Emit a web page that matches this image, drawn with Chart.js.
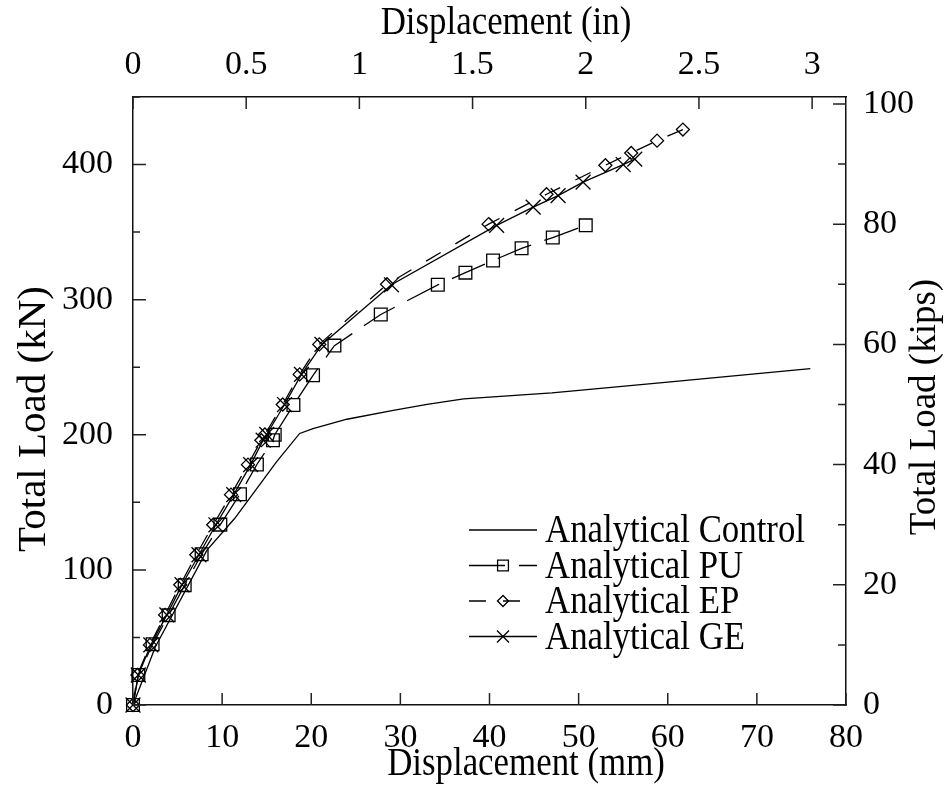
<!DOCTYPE html>
<html><head><meta charset="utf-8">
<script src="https://cdn.jsdelivr.net/npm/chart.js@4.4.1/dist/chart.umd.min.js"></script>
<style>html,body{margin:0;padding:0;background:#fff}#wrap{width:945px;height:788px}</style>
</head><body><div id="wrap"><canvas id="c" width="945" height="788"></canvas></div>
<script>
// ---- data (displacement in mm, load in kN) ----
const seriesNames = ['Analytical Control', 'Analytical PU', 'Analytical EP', 'Analytical GE'];

const controlDisp = [0, 2.5, 8.3, 11.4, 16.1, 18.7, 20.2, 24.0, 29.2, 33.0, 37.1, 47.0, 60.0, 76.0];
const controlLoad = [0, 43, 114.6, 138, 180, 201, 204.6, 211.5, 218, 222.5, 226.5, 231, 239, 249];

const puDisp = [0, 0.6, 2.2, 4.0, 5.8, 7.7, 9.8, 12.0, 13.9, 15.7, 15.9, 18.0, 20.2, 22.6, 27.8, 34.2, 37.3, 40.4, 43.6, 47.1, 50.8];
const puLoad = [0, 22.2, 44.9, 66.5, 88.7, 111.6, 133.5, 156, 178, 196, 200, 222, 244, 266, 289, 311, 320, 329, 338, 346, 355];

const epDisp = [0, 0.5, 1.9, 3.6, 5.3, 7.1, 9.0, 11.0, 12.9, 14.4, 14.8, 16.8, 18.7, 20.9, 28.5, 39.9, 46.4, 53.0, 55.9, 58.8, 61.7];
const epLoad = [0, 22.2, 44.5, 66.7, 89, 111.2, 133.4, 155.7, 177.9, 196, 200.2, 222.4, 244.7, 266.9, 311.4, 355.9, 378, 399.5, 408.6, 417.7, 425.9];

const geDisp = [0, 0.6, 2.0, 3.8, 5.5, 7.4, 9.3, 11.3, 13.2, 14.6, 15.0, 17.0, 18.9, 21.2, 29.0, 40.8, 44.9, 47.7, 50.5, 55.0, 56.3];
const geLoad = [0, 22.2, 44.5, 66.7, 89, 111.2, 133.4, 155.7, 177.9, 196, 200.2, 222.4, 244.7, 266.9, 311, 355, 368.5, 377, 387, 400, 404];

// ---- axes ----
const dispMmLabels = [0, 10, 20, 30, 40, 50, 60, 70, 80];
const dispInLabels = [0, 0.5, 1, 1.5, 2, 2.5, 3];
const loadKnLabels = [0, 100, 200, 300, 400];
const loadKipLabels = [0, 20, 40, 60, 80, 100];
const axisTitles = { bottom: 'Displacement (mm)', top: 'Displacement (in)', left: 'Total Load (kN)', right: 'Total Load (kips)' };
const MM_PER_IN = 25.4;
const KN_PER_KIP = 4.448222;
const X_MAX_MM = 80;
const Y_MAX_KN = 450;

const FONT = "'Liberation Serif','Times New Roman',serif";
const toPts = (xs, ys) => xs.map((x, i) => ({ x: x, y: ys[i] }));
const near = (v, arr) => arr.some(a => Math.abs(a - v) < 1e-6);

const hollow = 'rgba(0,0,0,0)';
const datasets = [
  { label: seriesNames[0], data: toPts(controlDisp, controlLoad), borderColor: '#000', borderWidth: 1.3, pointRadius: 0, clip: false },
  { label: seriesNames[1], data: toPts(puDisp, puLoad), borderColor: '#000', borderWidth: 1.3, borderDash: [36, 14],
    pointStyle: 'rect', pointRadius: 9, pointBorderWidth: 1.3, pointBorderColor: '#000', pointBackgroundColor: hollow, clip: false },
  { label: seriesNames[2], data: toPts(epDisp, epLoad), borderColor: '#000', borderWidth: 1.3, borderDash: [17, 17],
    pointStyle: 'rectRot', pointRadius: 6.5, pointBorderWidth: 1.3, pointBorderColor: '#000', pointBackgroundColor: hollow, clip: false },
  { label: seriesNames[3], data: toPts(geDisp, geLoad), borderColor: '#000', borderWidth: 1.3,
    pointStyle: 'crossRot', pointRadius: 10.5, pointBorderWidth: 1.3, pointBorderColor: '#000', pointBackgroundColor: hollow, clip: false }
];

// inward tick marks
const inwardTicks = {
  id: 'inwardTicks',
  afterDraw(chart) {
    const ctx = chart.ctx, a = chart.chartArea, s = chart.scales;
    ctx.save();
    ctx.strokeStyle = '#222';
    ctx.lineWidth = 1.5;
    ctx.beginPath();
    s.x.ticks.forEach(t => { const p = s.x.getPixelForValue(t.value); ctx.moveTo(p, a.bottom); ctx.lineTo(p, a.bottom - 12); });
    s.x2.ticks.forEach(t => { const p = s.x2.getPixelForValue(t.value); ctx.moveTo(p, a.top); ctx.lineTo(p, a.top + 12); });
    s.y.ticks.forEach(t => { const p = s.y.getPixelForValue(t.value); const L = near(t.value, loadKnLabels) ? 13 : 7; ctx.moveTo(a.left, p); ctx.lineTo(a.left + L, p); });
    s.y2.ticks.forEach(t => { const p = s.y2.getPixelForValue(t.value); const L = near(t.value, loadKipLabels) ? 13 : 8; ctx.moveTo(a.right, p); ctx.lineTo(a.right - L, p); });
    ctx.stroke();
    ctx.restore();
  }
};

// axis titles and legend
function drawText(ctx, txt, x, y, size, sx, rot, align) {
  ctx.save();
  ctx.translate(x, y);
  if (rot) ctx.rotate(rot);
  ctx.scale(sx, 1);
  ctx.font = size + 'px ' + FONT;
  ctx.fillStyle = '#000';
  ctx.textAlign = align || 'center';
  ctx.textBaseline = 'alphabetic';
  ctx.fillText(txt, 0, 0);
  ctx.restore();
}
function marker(ctx, style, x, y, r) {
  ctx.beginPath();
  if (style === 'rect') { const h = r * Math.SQRT1_2; ctx.rect(x - h, y - h, 2 * h, 2 * h); }
  else if (style === 'rectRot') { ctx.moveTo(x - r, y); ctx.lineTo(x, y - r); ctx.lineTo(x + r, y); ctx.lineTo(x, y + r); ctx.closePath(); }
  else if (style === 'crossRot') { const h = r * Math.SQRT1_2; ctx.moveTo(x - h, y - h); ctx.lineTo(x + h, y + h); ctx.moveTo(x - h, y + h); ctx.lineTo(x + h, y - h); }
  ctx.stroke();
}
const annotations = {
  id: 'annotations',
  afterDraw(chart) {
    const ctx = chart.ctx;
    drawText(ctx, axisTitles.bottom, 526, 775, 41, 0.85, 0);
    drawText(ctx, axisTitles.top, 506, 34, 41, 0.85, 0);
    drawText(ctx, axisTitles.left, 45, 419, 41, 1, -Math.PI / 2);
    drawText(ctx, axisTitles.right, 935, 407, 37, 1, -Math.PI / 2);
    // legend
    const baselines = [542, 577.5, 613, 648.5];
    chart.data.datasets.forEach((ds, i) => {
      const y = baselines[i] - 12;
      ctx.save();
      ctx.strokeStyle = '#000';
      ctx.lineWidth = 1.3;
      ctx.setLineDash(ds.borderDash || []);
      ctx.beginPath(); ctx.moveTo(469, y); ctx.lineTo(537, y); ctx.stroke();
      ctx.setLineDash([]);
      if (ds.pointStyle && ds.pointRadius) marker(ctx, ds.pointStyle, 503, y, ds.pointStyle === 'crossRot' ? 8.5 : ds.pointRadius * 0.85);
      ctx.restore();
      drawText(ctx, ds.label, 545, baselines[i], 40, 0.87, 0, 'left');
    });
  }
};

const tickFont = { family: FONT, size: 34 };
const fmt = v => String(Math.round(v * 100) / 100);

new Chart(document.getElementById('c'), {
  type: 'line',
  data: { datasets: datasets },
  options: {
    responsive: false,
    animation: false,
    devicePixelRatio: 1,
    events: [],
    layout: { padding: 0 },
    plugins: { legend: { display: false }, tooltip: { enabled: false }, title: { display: false } },
    scales: {
      x: {
        type: 'linear', position: 'bottom', min: 0, max: X_MAX_MM,
        ticks: { stepSize: 10, includeBounds: false, font: tickFont, color: '#000', padding: 13, maxRotation: 0,
          callback: v => near(v, dispMmLabels) ? fmt(v) : '' },
        grid: { drawOnChartArea: false, drawTicks: false },
        border: { display: true, color: '#111', width: 1.5 },
        afterFit: s => { s.height = 83; }
      },
      x2: {
        type: 'linear', position: 'top', min: 0, max: X_MAX_MM / MM_PER_IN,
        ticks: { stepSize: 0.5, includeBounds: false, font: tickFont, color: '#000', padding: 12, maxRotation: 0,
          callback: v => near(v, dispInLabels) ? fmt(v) : '' },
        grid: { drawOnChartArea: false, drawTicks: false },
        border: { display: true, color: '#111', width: 1.5 },
        afterFit: s => { s.height = 97; }
      },
      y: {
        type: 'linear', position: 'left', min: 0, max: Y_MAX_KN,
        ticks: { stepSize: 50, includeBounds: false, font: tickFont, color: '#000', padding: 20,
          callback: v => near(v, loadKnLabels) ? fmt(v) : '' },
        grid: { drawOnChartArea: false, drawTicks: false },
        border: { display: true, color: '#111', width: 1.5 },
        afterFit: s => { s.width = 133; }
      },
      y2: {
        type: 'linear', position: 'right', min: 0, max: Y_MAX_KN / KN_PER_KIP,
        ticks: { stepSize: 10, includeBounds: false, font: tickFont, color: '#000', padding: 17,
          callback: v => near(v, loadKipLabels) ? fmt(v) : '' },
        grid: { drawOnChartArea: false, drawTicks: false },
        border: { display: true, color: '#111', width: 1.5 },
        afterFit: s => { s.width = 99; }
      }
    }
  },
  plugins: [inwardTicks, annotations]
});
</script>
</body></html>
